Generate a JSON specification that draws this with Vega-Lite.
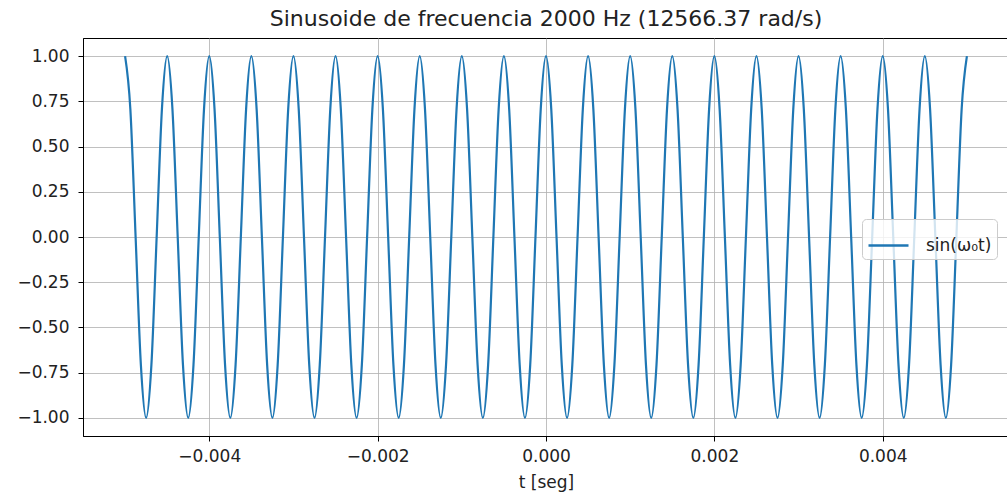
{
  "$schema": "https://vega.github.io/schema/vega-lite/v6.json",
  "autosize": "none",
  "width": 926,
  "height": 398,
  "padding": {"left": 83, "top": 38, "right": 0, "bottom": 66},
  "background": "white",
  "config": {
    "font": "DejaVu Sans",
    "view": {"stroke": "black", "strokeWidth": 1},
    "axis": {
      "domainColor": "black", "domainWidth": 1,
      "tickColor": "black", "tickSize": 5, "tickWidth": 1,
      "labelFont": "DejaVu Sans", "labelFontSize": 17, "labelColor": "#222222",
      "gridColor": "#b0b0b0", "gridWidth": 1, "gridOpacity": 0.8,
      "titleFont": "DejaVu Sans", "titleFontSize": 17, "titleFontWeight": "normal", "titleColor": "#222222"
    }
  },
  "title": {
    "text": "Sinusoide de frecuencia 2000 Hz (12566.37 rad/s)",
    "font": "DejaVu Sans", "fontSize": 22, "fontWeight": "normal", "color": "#222222", "offset": 7
  },
  "data": {"values": [
    {"t": -0.005, "y": 1}, {"t": -0.0049375, "y": 0.7071}, {"t": -0.004875, "y": 0}, {"t": -0.0048125, "y": -0.7071}, {"t": -0.00475, "y": -1}, {"t": -0.0046875, "y": -0.7071}, {"t": -0.004625, "y": 0}, {"t": -0.0045625, "y": 0.7071},
    {"t": -0.0045, "y": 1}, {"t": -0.0044375, "y": 0.7071}, {"t": -0.004375, "y": 0}, {"t": -0.0043125, "y": -0.7071}, {"t": -0.00425, "y": -1}, {"t": -0.0041875, "y": -0.7071}, {"t": -0.004125, "y": 0}, {"t": -0.0040625, "y": 0.7071},
    {"t": -0.004, "y": 1}, {"t": -0.0039375, "y": 0.7071}, {"t": -0.003875, "y": 0}, {"t": -0.0038125, "y": -0.7071}, {"t": -0.00375, "y": -1}, {"t": -0.0036875, "y": -0.7071}, {"t": -0.003625, "y": 0}, {"t": -0.0035625, "y": 0.7071},
    {"t": -0.0035, "y": 1}, {"t": -0.0034375, "y": 0.7071}, {"t": -0.003375, "y": 0}, {"t": -0.0033125, "y": -0.7071}, {"t": -0.00325, "y": -1}, {"t": -0.0031875, "y": -0.7071}, {"t": -0.003125, "y": 0}, {"t": -0.0030625, "y": 0.7071},
    {"t": -0.003, "y": 1}, {"t": -0.0029375, "y": 0.7071}, {"t": -0.002875, "y": 0}, {"t": -0.0028125, "y": -0.7071}, {"t": -0.00275, "y": -1}, {"t": -0.0026875, "y": -0.7071}, {"t": -0.002625, "y": 0}, {"t": -0.0025625, "y": 0.7071},
    {"t": -0.0025, "y": 1}, {"t": -0.0024375, "y": 0.7071}, {"t": -0.002375, "y": 0}, {"t": -0.0023125, "y": -0.7071}, {"t": -0.00225, "y": -1}, {"t": -0.0021875, "y": -0.7071}, {"t": -0.002125, "y": 0}, {"t": -0.0020625, "y": 0.7071},
    {"t": -0.002, "y": 1}, {"t": -0.0019375, "y": 0.7071}, {"t": -0.001875, "y": 0}, {"t": -0.0018125, "y": -0.7071}, {"t": -0.00175, "y": -1}, {"t": -0.0016875, "y": -0.7071}, {"t": -0.001625, "y": 0}, {"t": -0.0015625, "y": 0.7071},
    {"t": -0.0015, "y": 1}, {"t": -0.0014375, "y": 0.7071}, {"t": -0.001375, "y": 0}, {"t": -0.0013125, "y": -0.7071}, {"t": -0.00125, "y": -1}, {"t": -0.0011875, "y": -0.7071}, {"t": -0.001125, "y": 0}, {"t": -0.0010625, "y": 0.7071},
    {"t": -0.001, "y": 1}, {"t": -0.0009375, "y": 0.7071}, {"t": -0.000875, "y": 0}, {"t": -0.0008125, "y": -0.7071}, {"t": -0.00075, "y": -1}, {"t": -0.0006875, "y": -0.7071}, {"t": -0.000625, "y": 0}, {"t": -0.0005625, "y": 0.7071},
    {"t": -0.0005, "y": 1}, {"t": -0.0004375, "y": 0.7071}, {"t": -0.000375, "y": 0}, {"t": -0.0003125, "y": -0.7071}, {"t": -0.00025, "y": -1}, {"t": -0.0001875, "y": -0.7071}, {"t": -0.000125, "y": 0}, {"t": -0.0000625, "y": 0.7071},
    {"t": 0, "y": 1}, {"t": 0.0000625, "y": 0.7071}, {"t": 0.000125, "y": 0}, {"t": 0.0001875, "y": -0.7071}, {"t": 0.00025, "y": -1}, {"t": 0.0003125, "y": -0.7071}, {"t": 0.000375, "y": 0}, {"t": 0.0004375, "y": 0.7071},
    {"t": 0.0005, "y": 1}, {"t": 0.0005625, "y": 0.7071}, {"t": 0.000625, "y": 0}, {"t": 0.0006875, "y": -0.7071}, {"t": 0.00075, "y": -1}, {"t": 0.0008125, "y": -0.7071}, {"t": 0.000875, "y": 0}, {"t": 0.0009375, "y": 0.7071},
    {"t": 0.001, "y": 1}, {"t": 0.0010625, "y": 0.7071}, {"t": 0.001125, "y": 0}, {"t": 0.0011875, "y": -0.7071}, {"t": 0.00125, "y": -1}, {"t": 0.0013125, "y": -0.7071}, {"t": 0.001375, "y": 0}, {"t": 0.0014375, "y": 0.7071},
    {"t": 0.0015, "y": 1}, {"t": 0.0015625, "y": 0.7071}, {"t": 0.001625, "y": 0}, {"t": 0.0016875, "y": -0.7071}, {"t": 0.00175, "y": -1}, {"t": 0.0018125, "y": -0.7071}, {"t": 0.001875, "y": 0}, {"t": 0.0019375, "y": 0.7071},
    {"t": 0.002, "y": 1}, {"t": 0.0020625, "y": 0.7071}, {"t": 0.002125, "y": 0}, {"t": 0.0021875, "y": -0.7071}, {"t": 0.00225, "y": -1}, {"t": 0.0023125, "y": -0.7071}, {"t": 0.002375, "y": 0}, {"t": 0.0024375, "y": 0.7071},
    {"t": 0.0025, "y": 1}, {"t": 0.0025625, "y": 0.7071}, {"t": 0.002625, "y": 0}, {"t": 0.0026875, "y": -0.7071}, {"t": 0.00275, "y": -1}, {"t": 0.0028125, "y": -0.7071}, {"t": 0.002875, "y": 0}, {"t": 0.0029375, "y": 0.7071},
    {"t": 0.003, "y": 1}, {"t": 0.0030625, "y": 0.7071}, {"t": 0.003125, "y": 0}, {"t": 0.0031875, "y": -0.7071}, {"t": 0.00325, "y": -1}, {"t": 0.0033125, "y": -0.7071}, {"t": 0.003375, "y": 0}, {"t": 0.0034375, "y": 0.7071},
    {"t": 0.0035, "y": 1}, {"t": 0.0035625, "y": 0.7071}, {"t": 0.003625, "y": 0}, {"t": 0.0036875, "y": -0.7071}, {"t": 0.00375, "y": -1}, {"t": 0.0038125, "y": -0.7071}, {"t": 0.003875, "y": 0}, {"t": 0.0039375, "y": 0.7071},
    {"t": 0.004, "y": 1}, {"t": 0.0040625, "y": 0.7071}, {"t": 0.004125, "y": 0}, {"t": 0.0041875, "y": -0.7071}, {"t": 0.00425, "y": -1}, {"t": 0.0043125, "y": -0.7071}, {"t": 0.004375, "y": 0}, {"t": 0.0044375, "y": 0.7071},
    {"t": 0.0045, "y": 1}, {"t": 0.0045625, "y": 0.7071}, {"t": 0.004625, "y": 0}, {"t": 0.0046875, "y": -0.7071}, {"t": 0.00475, "y": -1}, {"t": 0.0048125, "y": -0.7071}, {"t": 0.004875, "y": 0}, {"t": 0.0049375, "y": 0.7071},
    {"t": 0.005, "y": 1}
  ]},
  "mark": {"type": "line", "interpolate": "monotone", "strokeWidth": 2.2, "clip": true},
  "encoding": {
    "x": {
      "field": "t", "type": "quantitative",
      "scale": {"domain": [-0.0055, 0.0055], "nice": false, "zero": false},
      "axis": {"values": [-0.004, -0.002, 0, 0.002, 0.004], "format": ".3f", "title": "t [seg]", "labelPadding": 7, "titlePadding": 10}
    },
    "y": {
      "field": "y", "type": "quantitative",
      "scale": {"domain": [-1.1, 1.1], "nice": false, "zero": false},
      "axis": {"values": [-1, -0.75, -0.5, -0.25, 0, 0.25, 0.5, 0.75, 1], "format": ".2f", "title": null, "labelPadding": 9}
    },
    "color": {
      "datum": "sin(ω₀t)", "type": "nominal",
      "scale": {"range": ["#1f77b4"]},
      "legend": {
        "title": null, "orient": "none", "legendX": 779, "legendY": 181,
        "symbolType": "stroke", "symbolSize": 1600, "symbolStrokeWidth": 2.5,
        "labelFont": "DejaVu Sans", "labelFontSize": 17, "labelColor": "#222222", "labelOffset": 16,
        "fillColor": "rgba(255,255,255,0.8)", "strokeColor": "#cccccc", "cornerRadius": 4, "padding": 5
      }
    }
  }
}
